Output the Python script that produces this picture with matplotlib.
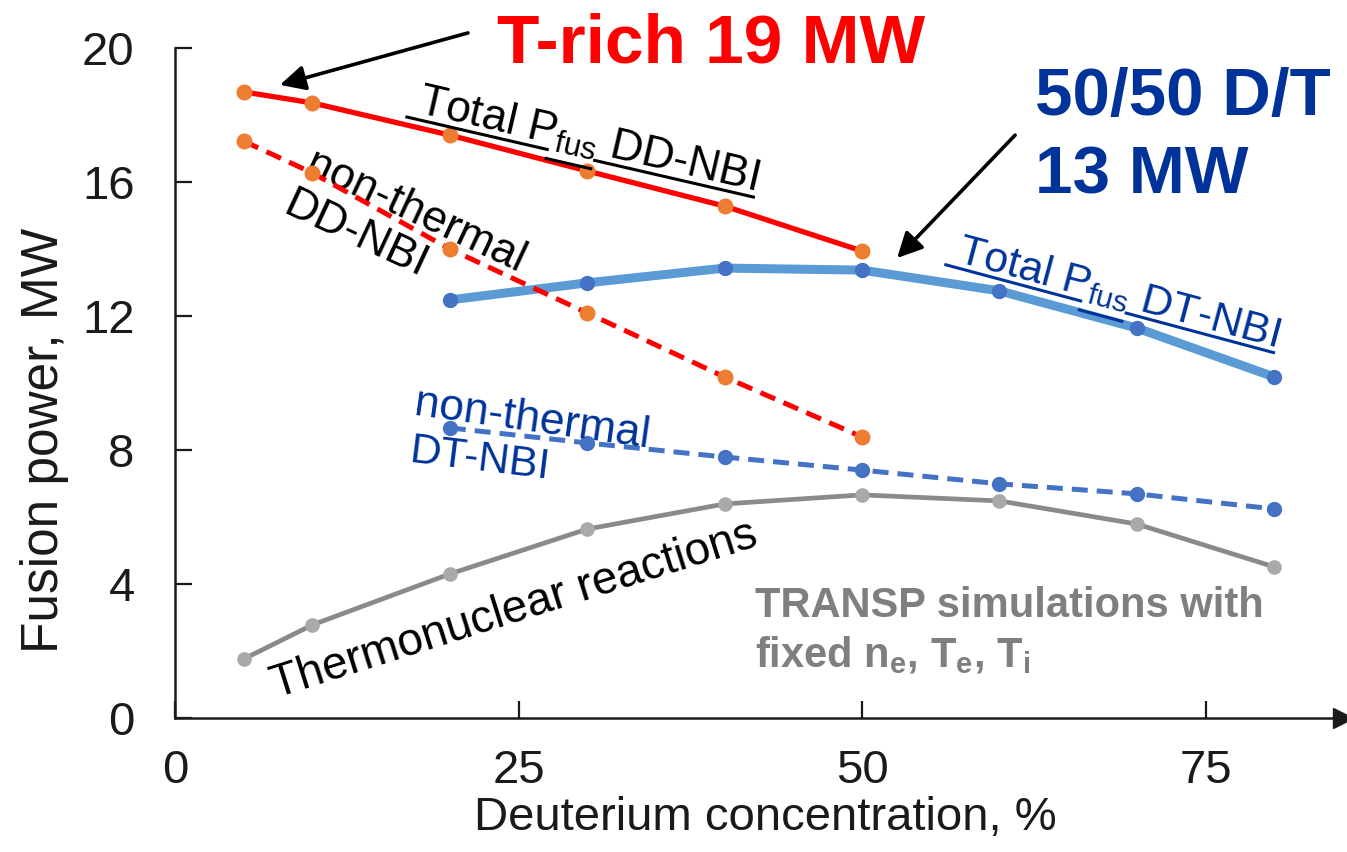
import numpy as np
import matplotlib
matplotlib.use("Agg")
import matplotlib.pyplot as plt
from matplotlib.lines import Line2D

plt.rcParams['font.family'] = ['Liberation Sans', 'DejaVu Sans']
plt.rcParams['mathtext.default'] = 'regular'

# ---- data -------------------------------------------------------------
x_dd = [5, 10, 20, 30, 40, 50]
total_dd = [18.69, 18.36, 17.40, 16.33, 15.28, 13.94]
nonthermal_dd = [17.22, 16.27, 14.00, 12.09, 10.18, 8.39]

x_dt = [20, 30, 40, 50, 60, 70, 80]
total_dt = [12.48, 12.99, 13.43, 13.37, 12.75, 11.64, 10.18]
nonthermal_dt = [8.66, 8.21, 7.79, 7.40, 6.99, 6.69, 6.24]

x_th = [5, 10, 20, 30, 40, 50, 60, 70, 80]
thermonuclear = [1.76, 2.78, 4.30, 5.64, 6.39, 6.66, 6.48, 5.79, 4.51]

x_ticks = [0, 25, 50, 75]
y_ticks = [0, 4, 8, 12, 16, 20]

RED = '#FF0000'
ORANGE = '#ED7D31'
LBLUE = '#5B9BD5'
MBLUE = '#4472C4'
DBLUE = '#00339A'
GREY_LINE = '#8A8A8A'
GREY_MK = '#A9A9A9'
GREY_TXT = '#7F7F7F'
AXIS = '#1A1A1A'

fig = plt.figure(figsize=(13.47, 8.52), dpi=100)
ax = fig.add_axes([175 / 1347, 134 / 852, 1168 / 1347, 670 / 852])
ax.set_xlim(0, 85)
ax.set_ylim(0, 20)

# ---- series -----------------------------------------------------------
ax.plot(x_th, thermonuclear, '-', color=GREY_LINE, lw=3.4, zorder=2)
ax.plot(x_th, thermonuclear, 'o', color=GREY_MK, ms=9.5, zorder=3)

ax.plot(x_dt, total_dt, '-', color=LBLUE, lw=6.5, zorder=2)
ax.plot(x_dt, total_dt, 'o', color=MBLUE, ms=10, zorder=3)

ax.plot(x_dt, nonthermal_dt, '--', color=MBLUE, lw=3.6, dashes=(3.2, 1.8), zorder=2)
ax.plot(x_dt, nonthermal_dt, 'o', color=MBLUE, ms=10, zorder=3)

ax.plot(x_dd, total_dd, '-', color=RED, lw=3.8, zorder=4)
ax.plot(x_dd, total_dd, 'o', color=ORANGE, ms=10.5, zorder=5)

ax.plot(x_dd, nonthermal_dd, '--', color=RED, lw=3.6, dashes=(3.2, 1.8), zorder=4)
ax.plot(x_dd, nonthermal_dd, 'o', color=ORANGE, ms=10.5, zorder=5)

# ---- axes styling -----------------------------------------------------
for side in ('top', 'right'):
    ax.spines[side].set_visible(False)
for side in ('left', 'bottom'):
    ax.spines[side].set_color(AXIS)
    ax.spines[side].set_linewidth(1.8)

ax.set_xticks(x_ticks)
ax.set_yticks(y_ticks)
ax.tick_params(axis='both', direction='in', length=12, width=1.6,
               color=AXIS, labelcolor=AXIS, labelsize=34)
ax.tick_params(axis='y', pad=29)
ax.tick_params(axis='x', pad=22)

ax.plot(1, 0, marker='>', color=AXIS, ms=14, transform=ax.transAxes,
        clip_on=False, zorder=6)

ax.set_xlabel('Deuterium concentration, %', fontsize=34, color=AXIS)
ax.set_ylabel('Fusion power, MW', fontsize=37, color=AXIS)
ax.xaxis.set_label_coords(0.505, -0.117)
ax.yaxis.set_label_coords(-0.0907, 0.415)

# ---- annotations ------------------------------------------------------
def label(x, y, s, angle=0, **kw):
    return ax.text(x, y, s, rotation=angle, rotation_mode='anchor',
                   ha='left', va='baseline', **kw)

ax.text(23.44, 19.58, 'T-rich 19 MW', fontsize=50, fontweight='bold',
        color=RED, ha='left', va='baseline', clip_on=False)
ax.text(62.59, 18.0, '50/50 D/T', fontsize=48.5, fontweight='bold',
        color=DBLUE, ha='left', va='baseline', clip_on=False)
ax.text(62.59, 15.67, '13 MW', fontsize=48.5, fontweight='bold',
        color=DBLUE, ha='left', va='baseline', clip_on=False)

arrow = dict(arrowstyle='-|>', color='black', lw=2.6, mutation_scale=38,
             shrinkA=0, shrinkB=0)
ax.annotate('', xy=(7.64, 18.90), xytext=(21.32, 20.45),
            arrowprops=arrow, annotation_clip=False)
ax.annotate('', xy=(52.55, 13.73), xytext=(61.14, 17.40),
            arrowprops=arrow, annotation_clip=False)

FS = 32
tot_dd = label(17.54, 18.06, r'Total P$_{fus}$ DD-NBI', -13, fontsize=FS, color='black')
label(9.32, 16.27, 'non-thermal', -25, fontsize=FS, color='black')
label(7.71, 15.06, 'DD-NBI', -25, fontsize=FS, color='black')

tot_dt = label(56.77, 13.64, r'Total P$_{fus}$ DT-NBI', -15, fontsize=31, color=DBLUE)
label(17.30, 9.05, 'non-thermal', -8, fontsize=FS, color=DBLUE)
label(16.96, 7.64, 'DT-NBI', -7, fontsize=31, color=DBLUE)

label(7.35, 0.60, 'Thermonuclear reactions', 17.5, fontsize=33, color='black')

ax.text(42.21, 3.01, 'TRANSP simulations with', fontsize=30, fontweight='bold',
        color=GREY_TXT, ha='left', va='baseline')
ax.text(42.21, 1.52, r'fixed n$_{e}$, T$_{e}$, T$_{i}$', fontsize=30,
        fontweight='bold', color=GREY_TXT, ha='left', va='baseline')

# ---- underlines following the rotated "Total P_fus" labels -------------
fig.canvas.draw()
renderer = fig.canvas.get_renderer()


def text_width(s, size):
    tmp = ax.text(0, 0, s, fontsize=size)
    w = tmp.get_window_extent(renderer).width
    tmp.remove()
    return w


def underline(txt, head, sub, tail, angle, color):
    size = txt.get_fontsize()
    w1 = text_width(head, size)
    w2 = text_width(head + sub, size)
    w3 = text_width(head + sub + tail, size)
    px, py = ax.transData.transform(txt.get_position())
    th = np.deg2rad(angle)
    u = np.array([np.cos(th), np.sin(th)])
    n = np.array([np.sin(th), -np.cos(th)])
    inv = fig.transFigure.inverted()
    segs = [(-8, w1, 6), (w1 + 1, w2 - 1, 15), (w2 + 1, w3, 6)]
    for a, b, d in segs:
        p0 = np.array([px, py]) + u * a + n * d
        p1 = np.array([px, py]) + u * b + n * d
        f0, f1 = inv.transform([p0, p1])
        fig.add_artist(Line2D([f0[0], f1[0]], [f0[1], f1[1]], color=color,
                              lw=2.2, transform=fig.transFigure))


underline(tot_dd, 'Total P', r'$_{fus}$', ' DD-NBI', -13, 'black')
underline(tot_dt, 'Total P', r'$_{fus}$', ' DT-NBI', -15, DBLUE)

fig.savefig('out.png', dpi=100)
